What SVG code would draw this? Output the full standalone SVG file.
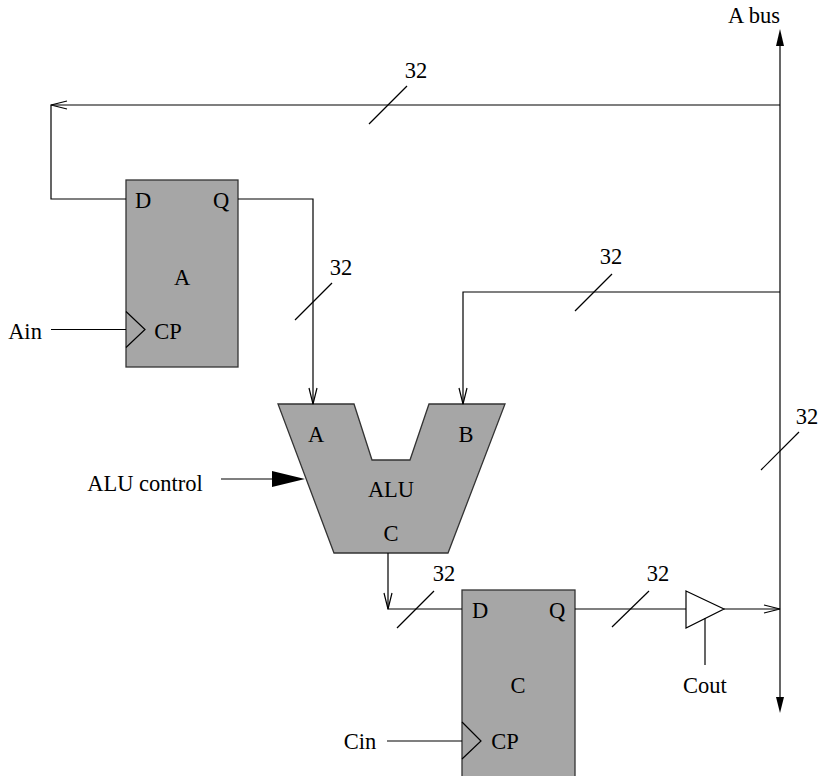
<svg xmlns="http://www.w3.org/2000/svg" width="821" height="776" viewBox="0 0 821 776">
<style>
text{font-family:"Liberation Serif","Times New Roman",serif;font-size:22.5px;fill:#000}
.m{text-anchor:middle}
.w{fill:none;stroke:#000;stroke-width:1.2}
.b{fill:#a6a6a6;stroke:#333;stroke-width:1.3}
.k{fill:#000;stroke:none}
</style>
<rect width="821" height="776" fill="#fff"/>
<g id="reg-a">
<rect class="b" x="126" y="180" width="112" height="187"/>
<path class="w" d="M126 311.500L145 329.500L126 347.500"/>
<text x="143" y="208" class="m">D</text>
<text x="221" y="208" class="m">Q</text>
<text x="182" y="285" class="m">A</text>
<text x="168" y="339" class="m">CP</text>
</g>
<g id="alu">
<path class="b" d="M278 404H354L372 460H410L429 404H505L448 553H334Z"/>
<text x="316" y="442" class="m">A</text>
<text x="466" y="442" class="m">B</text>
<text x="391" y="497" class="m">ALU</text>
<text x="391" y="541" class="m">C</text>
</g>
<g id="reg-c">
<rect class="b" x="462" y="590" width="113" height="190"/>
<path class="w" d="M462 722L481 741L462 759"/>
<text x="480" y="618" class="m">D</text>
<text x="557" y="618" class="m">Q</text>
<text x="518" y="693" class="m">C</text>
<text x="505" y="749" class="m">CP</text>
</g>
<g id="tristate">
<path class="w" d="M686 591L724 609L686 628Z"/>
</g>
<g id="connectors">
<path class="w" d="M780 105H51V199H126"/>
<path class="w" d="M67 101L51 105L67 109"/>
<path class="w" d="M238 199H313V404"/>
<path class="w" d="M309 388L313 404L317 388"/>
<path class="w" d="M780 292H463V404"/>
<path class="w" d="M459 388L463 404L467 388"/>
<path class="w" d="M51 329.500H126"/>
<path class="w" d="M387 741H462"/>
<path class="w" d="M221 479H274"/>
<path class="k" d="M272 471L305 479L272 487Z"/>
<path class="w" d="M388 553V609H462"/>
<path class="w" d="M384 593L388 609L392 593"/>
<path class="w" d="M575 609H686"/>
<path class="w" d="M724 609H780"/>
<path class="w" d="M764 605L780 609L764 613"/>
<path class="w" d="M705 618V665"/>
<path class="w" d="M780 44V699"/>
<path class="k" d="M780 29L784 46H776Z"/>
<path class="k" d="M780 713L776 697H784Z"/>
<path class="w" d="M369 124L407 86"/>
<path class="w" d="M295 320L332 283"/>
<path class="w" d="M575 311L612 274"/>
<path class="w" d="M761 470L799 432"/>
<path class="w" d="M397 628L434 591"/>
<path class="w" d="M612 627L649 591"/>
</g>
<g id="labels">
<text x="754" y="23" class="m">A bus</text>
<text x="416" y="78" class="m">32</text>
<text x="341" y="275" class="m">32</text>
<text x="611" y="264" class="m">32</text>
<text x="807" y="424" class="m">32</text>
<text x="444" y="581" class="m">32</text>
<text x="658" y="581" class="m">32</text>
<text x="25" y="339" class="m">Ain</text>
<text x="145" y="491" class="m">ALU control</text>
<text x="705" y="693" class="m">Cout</text>
<text x="360" y="749" class="m">Cin</text>
</g>
</svg>
